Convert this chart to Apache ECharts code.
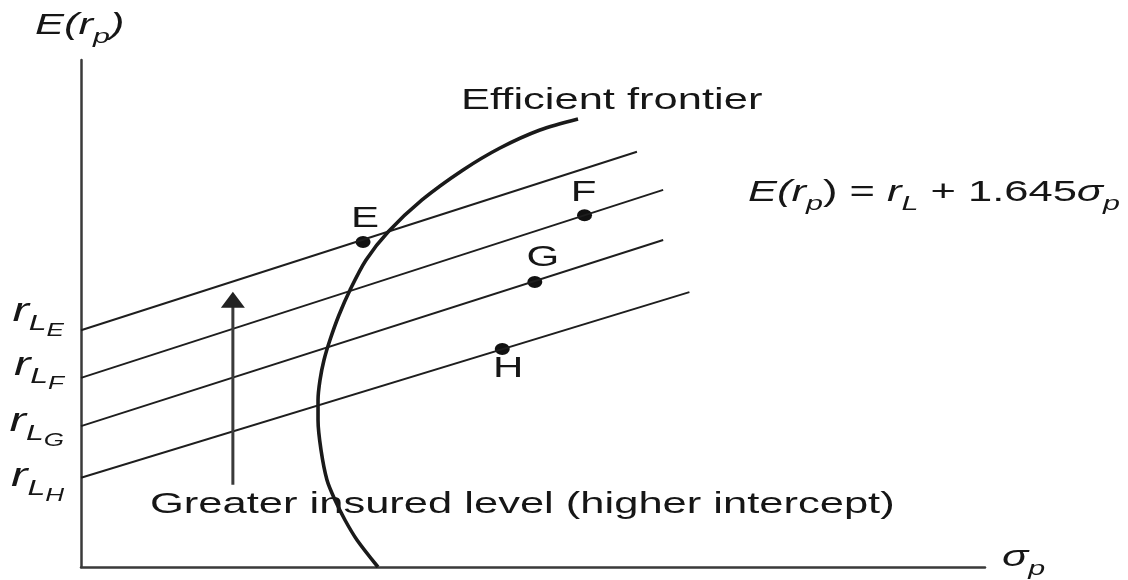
<!DOCTYPE html>
<html>
<head>
<meta charset="utf-8">
<script src="https://cdn.jsdelivr.net/npm/echarts@6/dist/echarts.min.js"></script>
<style>
  html, body { margin: 0; background: #fff; }
  #chart { width: 1128px; height: 580px; }
</style>
</head>
<body>
<div id="chart"></div>
<script>
// 保险水平线（E/F/G/H）
const lineNames = ['E', 'F', 'G', 'H']
const intercepts = [46.7, 37.3, 27.8, 17.6]
const lineEndX = [61.5, 64.4, 64.4, 67.3]
const lineEndY = [81.9, 74.4, 64.5, 54.2]

// 各组合点
const pointX = [31.2, 55.7, 50.2, 46.6]
const pointY = [64.1, 69.4, 56.2, 43.0]

// 有效前沿
const frontierSigma = [32.85, 30.53, 29.2, 28.1, 27.21, 26.55, 26.22, 26.22, 26.44, 26.88,
  27.54, 28.54, 29.76, 31.53, 33.96, 37.72, 42.26, 46.35, 50.77, 54.98]
const frontierReturn = [0, 5.33, 9.27, 13.21, 17.16, 23.08, 28.99, 32.94, 36.88, 40.83,
  44.77, 49.7, 54.64, 60.55, 66.07, 72.39, 78.3, 82.64, 86.19, 88.36]

// 纵轴 r_L 标签位置
const tickLabelAt = [50.3, 39.8, 28.6, 17.8]
const tickLabels = ['E', 'F', 'G', 'H']

// 箭头（由下往上）
const arrowX = [16.8, 16.8]
const arrowY = [16.2, 52.7]

const FONT = '"Liberation Sans", Arial, Helvetica, sans-serif'
const INK = '#161616'
const SX = 1.45 // 原图横向拉伸

const chartDom = document.getElementById('chart')
const myChart = echarts.init(chartDom)

const axisCommon = {
  type: 'value',
  min: 0,
  max: 100,
  axisLine: { show: true, lineStyle: { color: '#3a3a3a', width: 2.5 } },
  axisTick: { show: false },
  axisLabel: { show: false },
  splitLine: { show: false }
}

const budgetSeries = lineNames.map((name, i) => ({
  name: 'line' + name,
  type: 'line',
  symbol: 'none',
  silent: true,
  lineStyle: { color: '#1e1e1e', width: 1.9 },
  data: [[0, intercepts[i]], [lineEndX[i], lineEndY[i]]]
}))

const option = {
  animation: false,
  grid: { left: 81, right: 143, top: 60, bottom: 13 },
  xAxis: axisCommon,
  yAxis: axisCommon,
  series: [
    ...budgetSeries,
    {
      name: 'frontier',
      type: 'line',
      symbol: 'none',
      smooth: 0.3,
      silent: true,
      lineStyle: { color: '#1a1a1a', width: 3.6 },
      data: frontierSigma.map((s, i) => [s, frontierReturn[i]])
    },
    {
      name: 'arrow',
      type: 'line',
      symbol: 'none',
      silent: true,
      lineStyle: { color: '#3a3a3a', width: 3 },
      itemStyle: { color: '#222', opacity: 1 },
      data: [
        [arrowX[0], arrowY[0]],
        { value: [arrowX[1], arrowY[1]], symbol: 'triangle', symbolSize: [24, 16] }
      ]
    },
    {
      name: 'points',
      type: 'scatter',
      symbol: 'circle',
      symbolSize: [15, 12],
      silent: true,
      itemStyle: { color: '#111', opacity: 1 },
      data: pointX.map((x, i) => [x, pointY[i]])
    }
  ]
}

myChart.setOption(option)

// 文字（原图横向拉伸，用 graphic 的 scaleX）
const rich = {
  i: { fontFamily: FONT, fontStyle: 'italic', fontSize: 30 },
  n: { fontFamily: FONT, fontSize: 30 },
  s: { fontFamily: FONT, fontStyle: 'italic', fontSize: 21, padding: [22, 0, 0, 0] },
  r: { fontFamily: FONT, fontStyle: 'italic', fontSize: 34 },
  L: { fontFamily: FONT, fontStyle: 'italic', fontSize: 22, padding: [24, 0, 0, 0] },
  ss: { fontFamily: FONT, fontStyle: 'italic', fontSize: 18, padding: [38, 0, 0, 0] }
}

const txt = (x, y, text, align, size) => ({
  type: 'text',
  x: x,
  y: y,
  scaleX: SX,
  silent: true,
  style: {
    text: text,
    rich: rich,
    fill: INK,
    fontFamily: FONT,
    fontSize: size || 30,
    align: align,
    verticalAlign: 'middle',
    textAlign: align,
    textVerticalAlign: 'middle'
  }
})

const toPx = (x, y) => myChart.convertToPixel({ gridIndex: 0 }, [x, y])

// 点标签偏移（像素）
const pointLabelOffset = [[2, -23], [-1, -22], [8, -24], [6, 20]]

const graphics = [
  txt(35, 26, '{i|E(r}{s|p}{i|)}', 'left'),
  txt(461, 101, 'Efficient frontier', 'left'),
  txt(748, 193, '{i|E(r}{s|p}{n|) = }{i|r}{s|L}{n| + 1.645}{i|σ}{s|p}', 'left'),
  txt(150, 505, 'Greater insured level (higher intercept)', 'left', 30),
  txt(1002, 558, '{i|σ}{s|p}', 'left')
]

tickLabels.forEach((t, i) => {
  const p = toPx(0, tickLabelAt[i])
  graphics.push(txt(64, p[1], '{r|r}{L|L}{ss|' + t + '}', 'right'))
})

lineNames.forEach((n, i) => {
  const p = toPx(pointX[i], pointY[i])
  const off = pointLabelOffset[i]
  graphics.push(txt(p[0] + off[0], p[1] + off[1], n, 'center', 29))
})

myChart.setOption({ graphic: graphics })
</script>
</body>
</html>
